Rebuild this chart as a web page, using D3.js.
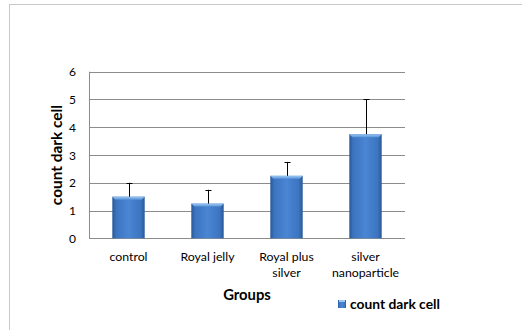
<!DOCTYPE html>
<html><head><meta charset="utf-8">
<script src="https://cdn.jsdelivr.net/npm/d3@7"></script>
<style>body{margin:0;background:#fff;}svg{display:block;}</style>
</head><body><svg id="c" width="522" height="330"></svg>
<script>
const categories = [["control"], ["Royal jelly"], ["Royal plus", "silver"], ["silver", "nanoparticle"]];
const values = [1.5, 1.25, 2.25, 3.75];
const errorPlus = [0.5, 0.5, 0.5, 1.25];
const yTicks = [0, 1, 2, 3, 4, 5, 6];
const seriesName = "count dark cell";
const xTitle = "Groups";
const yTitle = "count dark cell";

const svg = d3.select("#c");
const font = "Lato, 'Open Sans', sans-serif";
const m = {l: 89, r: 405, t: 71.7, b: 238.3};

// outer border
svg.append("rect").attr("x", 9.5).attr("y", 4.5).attr("width", 530).attr("height", 340)
  .attr("fill", "none").attr("stroke", "#c8c8c8").attr("stroke-width", 1);

const x = d3.scaleBand().domain(d3.range(categories.length)).range([m.l, m.r]).paddingInner(0.59).paddingOuter(0.295);
const xb = d3.scaleBand().domain(d3.range(categories.length)).range([m.l, m.r]);
const y = d3.scaleLinear().domain([0, 6]).range([m.b, m.t]);

const defs = svg.append("defs");
const g1 = defs.append("linearGradient").attr("id", "bg").attr("x1", 0).attr("x2", 1).attr("y1", 0).attr("y2", 0);
[[0, "#285896"], [0.12, "#3c74bf"], [0.5, "#4a86d4"], [0.88, "#3c74bf"], [1, "#285896"]].forEach(s => g1.append("stop").attr("offset", s[0]).attr("stop-color", s[1]));
const g2 = defs.append("linearGradient").attr("id", "tg").attr("x1", 0).attr("x2", 0).attr("y1", 0).attr("y2", 1);
[[0, "#9cc6f2"], [1, "#5a95db"]].forEach(s => g2.append("stop").attr("offset", s[0]).attr("stop-color", s[1]));

// grid
svg.append("g").selectAll("line").data(yTicks).join("line")
  .attr("x1", m.l).attr("x2", m.r).attr("y1", d => Math.round(y(d)) + 0.5).attr("y2", d => Math.round(y(d)) + 0.5)
  .attr("stroke", "#8c8c8c").attr("stroke-width", 1);
svg.append("line").attr("x1", m.l + 0.5).attr("x2", m.l + 0.5).attr("y1", y(6)).attr("y2", y(0))
  .attr("stroke", "#8c8c8c");

// y tick labels
svg.append("g").selectAll("text").data(yTicks).join("text")
  .attr("x", 76).attr("y", d => y(d) + 4.5).attr("text-anchor", "end")
  .attr("font-family", font).attr("font-size", 12).attr("fill", "#000").text(d => d);

// bars
const bars = svg.append("g").selectAll("g").data(values).join("g");
bars.append("rect").attr("x", (d, i) => x(i)).attr("width", x.bandwidth())
  .attr("y", d => y(d)).attr("height", d => y(0) - y(d)).attr("fill", "url(#bg)");
bars.append("path").attr("d", (d, i) => {
  const x0 = x(i), w = x.bandwidth(), y0 = y(d);
  return `M${x0},${y0}L${x0 + w},${y0}L${x0 + w - 3},${y0 + 3}L${x0 + 3},${y0 + 3}Z`;
}).attr("fill", "url(#tg)");

// error bars
const eb = svg.append("g").attr("stroke", "#000").attr("stroke-width", 1);
values.forEach((v, i) => {
  const cx = Math.round(xb(i) + xb.bandwidth() / 2) + 0.5;
  eb.append("line").attr("x1", cx).attr("x2", cx).attr("y1", y(v)).attr("y2", y(v + errorPlus[i]));
  eb.append("line").attr("x1", cx - 3).attr("x2", cx + 3).attr("y1", Math.round(y(v + errorPlus[i])) + 0.5).attr("y2", Math.round(y(v + errorPlus[i])) + 0.5);
});

// x labels
const xl = svg.append("g").selectAll("text").data(categories).join("text")
  .attr("x", (d, i) => xb(i) + xb.bandwidth() / 2).attr("y", 261)
  .attr("text-anchor", "middle").attr("font-family", font).attr("font-size", 12.3).attr("fill", "#000");
xl.selectAll("tspan").data(d => d).join("tspan")
  .attr("x", function () { return this.parentNode.getAttribute("x"); })
  .attr("dy", (d, j) => j === 0 ? 0 : 15.5).text(d => d);

// axis titles
svg.append("text").attr("x", 247).attr("y", 299.5).attr("text-anchor", "middle")
  .attr("font-family", font).attr("font-weight", "bold").attr("font-size", 14.8).text(xTitle);
svg.append("text").attr("transform", "translate(62,155) rotate(-90)").attr("text-anchor", "middle")
  .attr("font-family", font).attr("font-weight", "bold").attr("font-size", 15.4).text(yTitle);

// legend
svg.append("rect").attr("x", 338).attr("y", 300).attr("width", 8).attr("height", 8).attr("fill", "url(#bg)");
svg.append("rect").attr("x", 339).attr("y", 300).attr("width", 6).attr("height", 2).attr("fill", "#9cc6f2");
svg.append("text").attr("x", 350).attr("y", 308.5).attr("font-family", font).attr("font-weight", "bold")
  .attr("font-size", 13.8).text(seriesName);
</script></body></html>
